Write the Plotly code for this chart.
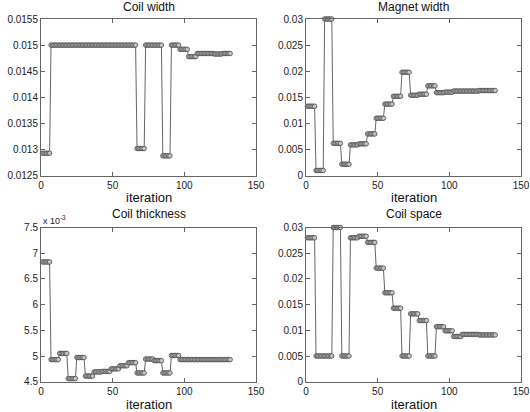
import numpy as np
import plotly.graph_objects as go

# Iterations 1..132, design variables change in blocks of 6 iterations
block_len = 6
coil_width_blocks = [0.01293, 0.0150, 0.0150, 0.0150, 0.0150, 0.0150, 0.0150, 0.0150, 0.0150, 0.0150,
                     0.0150, 0.01302, 0.0150, 0.0150, 0.01288, 0.0150, 0.01492, 0.01478, 0.01484,
                     0.01484, 0.01483, 0.01484]
magnet_width_blocks = [0.0133, 0.0010, 0.0300, 0.0062, 0.0022, 0.0059, 0.0061, 0.0080, 0.0110,
                       0.0137, 0.0152, 0.0198, 0.0154, 0.0156, 0.0172, 0.0159, 0.0160, 0.0162,
                       0.0162, 0.0162, 0.0163, 0.0163]
coil_thickness_blocks = [0.00683, 0.00493, 0.00505, 0.00456, 0.00497, 0.00461, 0.00469, 0.00470,
                         0.00475, 0.00481, 0.00487, 0.00467, 0.00494, 0.00491, 0.00467, 0.00501,
                         0.00493, 0.00493, 0.00493, 0.00493, 0.00493, 0.00493]
coil_space_blocks = [0.0280, 0.0050, 0.0050, 0.0300, 0.0050, 0.0280, 0.0283, 0.0271, 0.0221,
                     0.0173, 0.0143, 0.0050, 0.0132, 0.0119, 0.0050, 0.0107, 0.0099, 0.0088,
                     0.0092, 0.0092, 0.0091, 0.0091]

titles = ["Coil width", "Magnet width", "Coil thickness", "Coil space"]
x_label = "iteration"
x_ticks = [0, 50, 100, 150]
y_ticks_cw = [0.0125, 0.013, 0.0135, 0.014, 0.0145, 0.015, 0.0155]
y_ticks_mw = [0, 0.005, 0.01, 0.015, 0.02, 0.025, 0.03]
y_ticks_ct = [0.0045, 0.005, 0.0055, 0.006, 0.0065, 0.007, 0.0075]
y_ticks_ct_text = ["4.5", "5", "5.5", "6", "6.5", "7", "7.5"]
y_ticks_cs = [0, 0.005, 0.01, 0.015, 0.02, 0.025, 0.03]

series = [coil_width_blocks, magnet_width_blocks, coil_thickness_blocks, coil_space_blocks]
yticks = [y_ticks_cw, y_ticks_mw, y_ticks_ct, y_ticks_cs]
ytexts = [[str(v) for v in y_ticks_cw], [str(v) for v in y_ticks_mw], y_ticks_ct_text,
          [str(v) for v in y_ticks_cs]]

W, H = 530, 412
def px_x(p):
    return p / W
def px_y(p):
    return 1 - p / H

# (x domain, y domain, title centre y px, x-label centre y px)
panels = [
    ([px_x(41), px_x(256)], [px_y(175.7), px_y(19)], 7, 197),
    ([px_x(306), px_x(521)], [px_y(175.7), px_y(19)], 7, 197),
    ([px_x(41), px_x(256)], [px_y(381.7), px_y(227.5)], 214, 404),
    ([px_x(306), px_x(521)], [px_y(381.7), px_y(227.5)], 214, 404),
]

FONT = "Liberation Sans, Arial, sans-serif"
fig = go.Figure()
layout = dict(width=W, height=H, autosize=False, margin=dict(l=0, r=0, t=0, b=0, pad=0),
              paper_bgcolor="white", plot_bgcolor="white", showlegend=False,
              font=dict(family=FONT, size=10, color="#222"))
annotations = []
for i in range(4):
    sfx = "" if i == 0 else str(i + 1)
    vals = np.repeat(np.array(series[i]), block_len)
    it = np.arange(1, len(vals) + 1)
    fig.add_trace(go.Scatter(
        x=it, y=vals, mode="lines+markers", xaxis="x" + sfx, yaxis="y" + sfx,
        cliponaxis=False,
        line=dict(color="#666", width=1),
        marker=dict(symbol="circle", size=4.5, color="#c4c4c4",
                    line=dict(color="#4a4a4a", width=0.8)),
    ))
    xd, yd, ty, ly = panels[i]
    layout["xaxis" + sfx] = dict(
        domain=xd, anchor="y" + sfx, range=[0, 150], tickvals=x_ticks,
        ticktext=[str(t) for t in x_ticks], ticks="inside", ticklen=4,
        tickcolor="#666", showline=True, linecolor="#666", linewidth=1,
        mirror="ticks", showgrid=False, zeroline=False, automargin=False,
        ticklabeloverflow="allow",
        tickfont=dict(size=10, family=FONT, color="#222"),
    )
    yt = yticks[i]
    layout["yaxis" + sfx] = dict(
        domain=yd, anchor="x" + sfx, range=[yt[0], yt[-1]], tickvals=yt,
        ticktext=ytexts[i], ticks="inside", ticklen=4, tickcolor="#666",
        showline=True, linecolor="#666", linewidth=1, mirror="ticks",
        showgrid=False, zeroline=False, automargin=False,
        ticklabeloverflow="allow",
        tickfont=dict(size=10, family=FONT, color="#222"),
    )
    cx = (xd[0] + xd[1]) / 2
    annotations.append(dict(text=titles[i], x=cx, y=px_y(ty), xref="paper", yref="paper",
                            xanchor="center", yanchor="middle", showarrow=False,
                            font=dict(size=12, family=FONT, color="#111")))
    annotations.append(dict(text=x_label, x=cx, y=px_y(ly), xref="paper", yref="paper",
                            xanchor="center", yanchor="middle", showarrow=False,
                            font=dict(size=13, family=FONT, color="#111")))

annotations.append(dict(text="x 10<sup>-3</sup>", x=panels[2][0][0], y=panels[2][1][1],
                        xref="paper", yref="paper", xanchor="left", yanchor="bottom",
                        showarrow=False, font=dict(size=9, family=FONT, color="#222")))
layout["annotations"] = annotations
fig.update_layout(**layout)
fig.write_html("out.html", config={"displayModeBar": False},
               post_script="document.body.style.margin='0px';document.body.style.overflow='hidden';")
